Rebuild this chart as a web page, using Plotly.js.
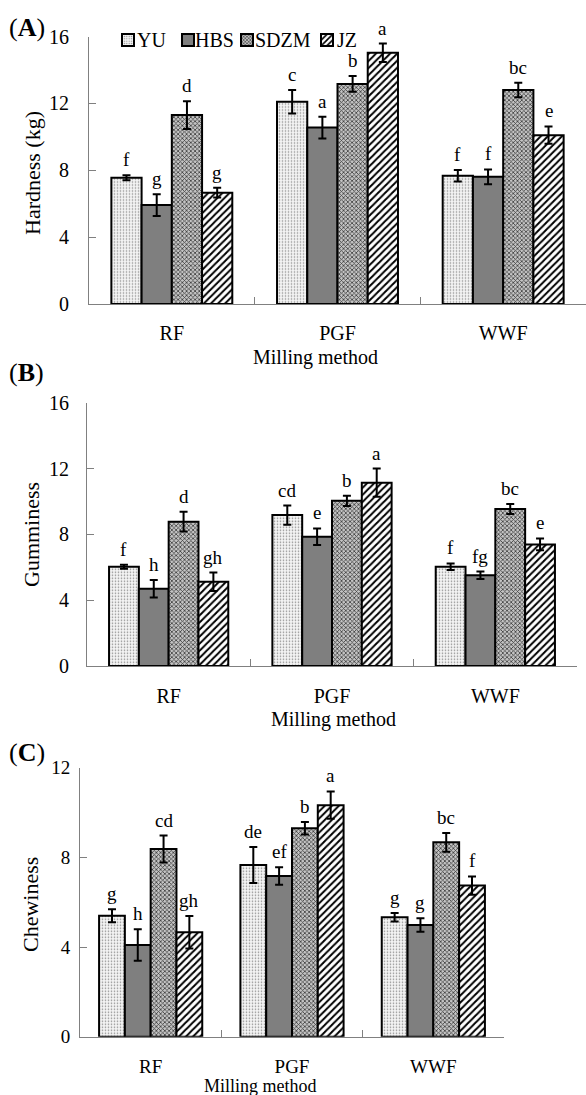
<!DOCTYPE html>
<html><head><meta charset="utf-8">
<script src="https://cdn.plot.ly/plotly-3.0.1.min.js"></script>
<style>html,body{margin:0;padding:0;background:#fff}#chart{width:586px;height:1095px}</style>
</head><body><div id="chart"></div>
<script>
// ---------- data ----------
const categories = ['RF', 'PGF', 'WWF'];
const seriesNames = ['YU', 'HBS', 'SDZM', 'JZ'];

// (A) Hardness (kg)
const hardnessYU   = [7.55, 12.10, 7.67];
const hardnessHBS  = [5.92, 10.55, 7.61];
const hardnessSDZM = [11.30, 13.16, 12.80];
const hardnessJZ   = [6.66, 15.03, 10.10];
const hardnessErrYU   = [0.15, 0.70, 0.35];
const hardnessErrHBS  = [0.65, 0.65, 0.44];
const hardnessErrSDZM = [0.83, 0.47, 0.43];
const hardnessErrJZ   = [0.29, 0.55, 0.52];
const hardnessLetYU   = ['f', 'c', 'f'];
const hardnessLetHBS  = ['g', 'a', 'f'];
const hardnessLetSDZM = ['d', 'b', 'bc'];
const hardnessLetJZ   = ['g', 'a', 'e'];

// (B) Gumminess
const gumYU   = [6.03, 9.17, 6.03];
const gumHBS  = [4.70, 7.86, 5.51];
const gumSDZM = [8.77, 10.04, 9.54];
const gumJZ   = [5.12, 11.14, 7.39];
const gumErrYU   = [0.12, 0.58, 0.20];
const gumErrHBS  = [0.53, 0.50, 0.23];
const gumErrSDZM = [0.60, 0.31, 0.31];
const gumErrJZ   = [0.56, 0.86, 0.36];
const gumLetYU   = ['f', 'cd', 'f'];
const gumLetHBS  = ['h', 'e', 'fg'];
const gumLetSDZM = ['d', 'b', 'bc'];
const gumLetJZ   = ['gh', 'a', 'e'];

// (C) Chewiness
const chewYU   = [5.40, 7.66, 5.33];
const chewHBS  = [4.09, 7.17, 4.98];
const chewSDZM = [8.37, 9.30, 8.67];
const chewJZ   = [4.66, 10.33, 6.74];
const chewErrYU   = [0.29, 0.80, 0.19];
const chewErrHBS  = [0.70, 0.39, 0.30];
const chewErrSDZM = [0.60, 0.28, 0.42];
const chewErrJZ   = [0.72, 0.61, 0.41];
const chewLetYU   = ['g', 'de', 'g'];
const chewLetHBS  = ['h', 'ef', 'g'];
const chewLetSDZM = ['cd', 'b', 'bc'];
const chewLetJZ   = ['gh', 'a', 'f'];

const yTicks = [0, 4, 8, 12, 16];
const yTicksC = [0, 4, 8, 12];

// ---------- styling ----------
const W = 586, H = 1095;
const FONT = 'Liberation Serif, Times New Roman, serif';
const BARGAP = 0.27;
const px = v => v / W;
const py = v => 1 - v / H;

const fills = [
  {color: '#f0f0f0', pattern: {shape: '.', bgcolor: '#f3f3f3', fgcolor: '#8c8c8c', size: 3, solidity: 0.22}},
  {color: '#7f7f7f', pattern: {shape: ''}},
  {color: '#c4c4c4', pattern: {shape: 'x', bgcolor: '#c4c4c4', fgcolor: '#3a3a3a', size: 3, solidity: 0.45}},
  {color: '#ffffff', pattern: {shape: '/', bgcolor: '#ffffff', fgcolor: '#000000', size: 5, solidity: 0.4}}
];

const panels = [
  {xa: 'x',  ya: 'y',  vals: [hardnessYU, hardnessHBS, hardnessSDZM, hardnessJZ],
   errs: [hardnessErrYU, hardnessErrHBS, hardnessErrSDZM, hardnessErrJZ],
   lets: [hardnessLetYU, hardnessLetHBS, hardnessLetSDZM, hardnessLetJZ]},
  {xa: 'x2', ya: 'y2', vals: [gumYU, gumHBS, gumSDZM, gumJZ],
   errs: [gumErrYU, gumErrHBS, gumErrSDZM, gumErrJZ],
   lets: [gumLetYU, gumLetHBS, gumLetSDZM, gumLetJZ]},
  {xa: 'x3', ya: 'y3', vals: [chewYU, chewHBS, chewSDZM, chewJZ],
   errs: [chewErrYU, chewErrHBS, chewErrSDZM, chewErrJZ],
   lets: [chewLetYU, chewLetHBS, chewLetSDZM, chewLetJZ]}
];

const legendIds = ['legend', 'legend2', 'legend3', 'legend4'];
const traces = [];
const annotations = [];
const barW = (1 - BARGAP) / 4;

panels.forEach((p, pi) => {
  seriesNames.forEach((name, si) => {
    traces.push({
      type: 'bar', name: ' ', x: categories, y: p.vals[si],
      xaxis: p.xa, yaxis: p.ya,
      marker: {color: fills[si].color, pattern: fills[si].pattern, line: {color: '#000', width: 2}},
      error_y: {type: 'data', array: p.errs[si], visible: true, color: '#000', thickness: 2, width: 4},
      showlegend: pi === 0, legend: legendIds[si], hoverinfo: 'y'
    });
    categories.forEach((c, ci) => {
      annotations.push({
        xref: p.xa, yref: p.ya, x: ci + (si - 1.5) * barW, y: p.vals[si][ci] + p.errs[si][ci],
        text: p.lets[si][ci], showarrow: false, xanchor: 'center', yanchor: 'bottom', yshift: 3,
        font: {family: FONT, size: 19, color: '#000'}
      });
    });
  });
});

// legend texts
const legendTextX = [135, 193, 253, 335];
const legendBoxX = [128, 188, 247, 327];
seriesNames.forEach((n, i) => {
  annotations.push({xref: 'paper', yref: 'paper', x: px(legendTextX[i]), y: py(40),
    text: n, showarrow: false, xanchor: 'left', yanchor: 'middle',
    font: {family: FONT, size: 20, color: '#000'}});
});

// panel letters
[['A', 27], ['B', 373], ['C', 752]].forEach(([l, y]) => {
  annotations.push({xref: 'paper', yref: 'paper', x: px(7), y: py(y), text: '(<b>' + l + '</b>)',
    showarrow: false, xanchor: 'left', yanchor: 'middle', font: {family: FONT, size: 26, color: '#000'}});
});

// axis titles
[['Hardness (kg)', 33, 173], ['Gumminess', 31, 535], ['Chewiness', 30, 905]].forEach(([t, x, y]) => {
  annotations.push({xref: 'paper', yref: 'paper', x: px(x), y: py(y), text: t, textangle: -90,
    showarrow: false, xanchor: 'center', yanchor: 'middle', font: {family: FONT, size: 22, color: '#000'}});
});
[[315, 357, 20], [333, 719, 20], [260, 1086, 18]].forEach(([x, y, s]) => {
  annotations.push({xref: 'paper', yref: 'paper', x: px(x), y: py(y), text: 'Milling method',
    showarrow: false, xanchor: 'center', yanchor: 'middle', font: {family: FONT, size: s, color: '#000'}});
});

function xaxis(domain, anchor, standoff, fs) {
  return {domain: domain, anchor: anchor, type: 'category', range: [-0.5, 2.5],
    showline: true, linecolor: '#808080', linewidth: 1, ticks: 'inside', tickson: 'boundaries',
    ticklen: 7, tickcolor: '#808080', tickwidth: 1, showgrid: false, zeroline: false,
    tickfont: {family: FONT, size: fs, color: '#000'}, ticklabelstandoff: standoff, fixedrange: true};
}
function yaxis(domain, anchor, range, tv, standoff, fs) {
  return {domain: domain, anchor: anchor, range: range, tickvals: tv, ticktext: tv.map(String),
    showline: true, linecolor: '#808080', linewidth: 1, ticks: 'inside', ticklen: 7,
    tickcolor: '#808080', tickwidth: 1, showgrid: false, zeroline: false,
    tickfont: {family: FONT, size: fs, color: '#000'}, ticklabelstandoff: standoff, fixedrange: true};
}

const layout = {
  width: W, height: H, margin: {l: 0, r: 0, t: 0, b: 0},
  paper_bgcolor: '#fff', plot_bgcolor: '#fff',
  barmode: 'group', bargap: BARGAP, bargroupgap: 0,
  xaxis:  xaxis([px(89), 1], 'y', 11, 20),
  yaxis:  yaxis([py(304), py(36.5)], 'x', [0, 16], yTicks, 15, 20),
  xaxis2: xaxis([px(87), px(577)], 'y2', 12, 20),
  yaxis2: yaxis([py(666), py(402.7)], 'x2', [0, 16], yTicks, 13, 20),
  xaxis3: xaxis([px(80), px(504)], 'y3', 12, 19),
  yaxis3: yaxis([py(1036.7), py(767.7)], 'x3', [0, 12], yTicksC, 5, 19),
  annotations: annotations,
  font: {family: FONT, color: '#000'}
};
legendIds.forEach((id, i) => {
  layout[id] = {x: px(legendBoxX[i] - 20), xanchor: 'left', y: py(40), yanchor: 'middle',
    bgcolor: 'rgba(0,0,0,0)', borderwidth: 0, font: {size: 12}, orientation: 'h'};
});

Plotly.newPlot('chart', traces, layout, {displayModeBar: false, staticPlot: true});
</script></body></html>
